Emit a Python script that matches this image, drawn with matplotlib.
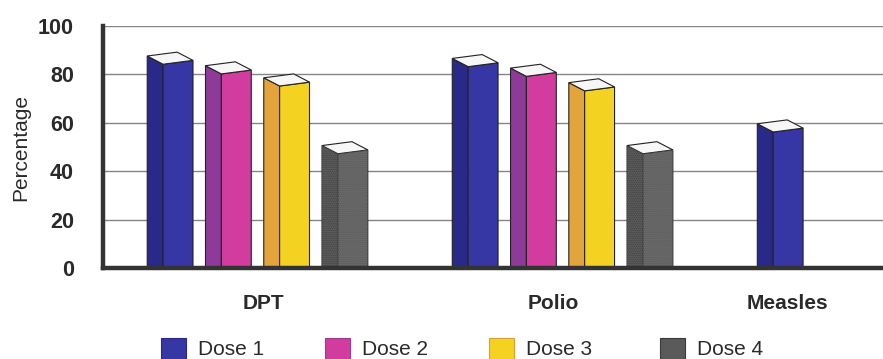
import matplotlib
matplotlib.use("Agg")
import matplotlib.pyplot as plt
from matplotlib.patches import Polygon, Rectangle

plt.rcParams["font.family"] = ["Liberation Sans", "DejaVu Sans"]

# coverage by vaccine and dose (percent); None = dose not given
categories = ["DPT", "Polio", "Measles"]
dose_names = ["Dose 1", "Dose 2", "Dose 3", "Dose 4"]
dose1 = [85, 84, 57]
dose2 = [81, 80, None]
dose3 = [76, 74, None]
dose4 = [48, 48, None]
y_ticks = [0, 20, 40, 60, 80, 100]

series = [dose1, dose2, dose3, dose4]

# front / side colours for each dose
FRONT = ["#3636a4", "#d23c9e", "#f3d222", "#5a5a5a"]
SIDE = ["#29298a", "#8e3a98", "#e4a43c", "#3a3a3a"]
TOP = "#f7f7f7"
EDGE = "#222222"

SLOT = 0.191      # distance between doses inside a group
FRONT_W = 0.098   # width of the front face
DEPTH_X = 0.052   # how far the side face reaches to the left
DEPTH_Y = 3.4     # how far the top face rises backwards
TILT = 0.8        # slight slope of the front top edge
GROUP_OFF = -0.308
label_x = [0.02, 0.97, 1.74]


def draw_bar(ax, x1, v, j):
    x2 = x1 + FRONT_W
    xb = x1 - DEPTH_X
    front = [(x1, 0), (x2, 0), (x2, v + TILT), (x1, v - TILT)]
    side = [(xb, 0), (x1, 0), (x1, v - TILT), (xb, v - TILT + DEPTH_Y)]
    top = [(x1, v - TILT), (x2, v + TILT),
           (x2 - DEPTH_X, v + TILT + DEPTH_Y), (xb, v - TILT + DEPTH_Y)]
    for pts, col in ((side, SIDE[j]), (front, FRONT[j]), (top, TOP)):
        ax.add_patch(Polygon(pts, closed=True, facecolor=col,
                             edgecolor=EDGE, linewidth=0.8, zorder=3))
    if j == 3:
        # grainy look of the grey bars
        for pts in (side, front):
            ax.add_patch(Polygon(pts, closed=True, facecolor="none",
                                 edgecolor="#737373", hatch="........",
                                 linewidth=0, zorder=3.5))


fig = plt.figure(figsize=(8.83, 3.59), dpi=100)
ax = fig.add_axes([103 / 883, 91 / 359, 780 / 883, 242 / 359])

for j, vals in enumerate(series):
    for i, v in enumerate(vals):
        if v is None:
            continue
        draw_bar(ax, i + GROUP_OFF + j * SLOT, v, j)

ax.set_xlim(-0.505, 2.052)
ax.set_ylim(0, 100)
ax.set_yticks(y_ticks)
ax.set_yticklabels([str(t) for t in y_ticks], fontsize=15.5,
                   fontweight="bold", color="#2a2a2a")
ax.set_xticks(label_x)
ax.set_xticklabels(categories, fontsize=15, fontweight="bold",
                   color="#2a2a2a")
ax.tick_params(axis="y", length=0, pad=21)
ax.tick_params(axis="x", length=0, pad=19)

ax.grid(axis="y", color="#858585", linewidth=1.0, zorder=0)
ax.set_axisbelow(True)
for side in ("top", "right"):
    ax.spines[side].set_visible(False)
for side in ("left", "bottom"):
    ax.spines[side].set_linewidth(3.2)
    ax.spines[side].set_color("#333333")
    ax.spines[side].set_zorder(4)

fig.text(21 / 883, 0.59, "Percentage", rotation=90, ha="center",
         va="center", fontsize=15, color="#2a2a2a")

# legend row along the bottom edge
legend_x = [161, 325, 489, 660]
legend_edge = ["#29298a", "#a03a90", "#d8a030", "#3a3a3a"]
for j, name in enumerate(dose_names):
    px = legend_x[j]
    fig.patches.append(Rectangle((px / 883, -1 / 359), 25 / 883, 22 / 359,
                                 transform=fig.transFigure,
                                 facecolor=FRONT[j], edgecolor=legend_edge[j],
                                 linewidth=0.8))
    fig.text((px + 37) / 883, 4 / 359, name, ha="left", va="baseline",
             fontsize=15, color="#2a2a2a")

fig.savefig("out.png", dpi=100)
